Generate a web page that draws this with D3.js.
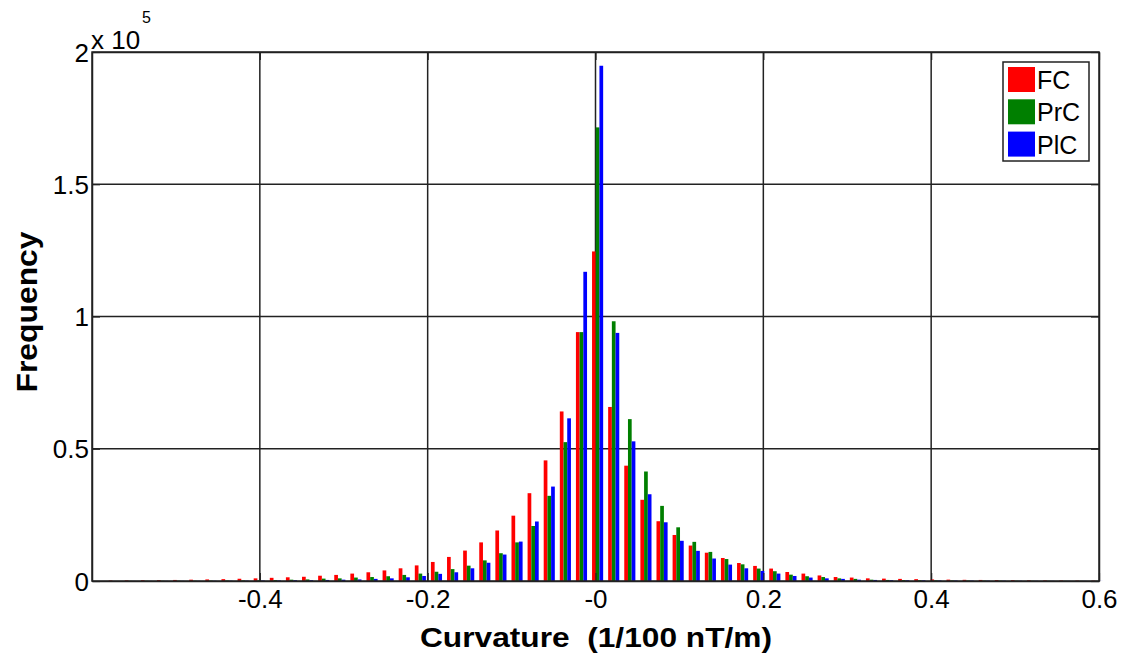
<!DOCTYPE html>
<html>
<head>
<meta charset="utf-8">
<script src="https://cdn.jsdelivr.net/npm/d3@7"></script>
<style>
  body { margin: 0; background: #fff; }
  text { font-family: "Liberation Sans", Arial, sans-serif; fill: #000; }
</style>
</head>
<body>
<div id="chart"></div>
<script>
// bin centres (curvature, 1/100 nT/m)
const binCenters = [
  -0.5735, -0.5543, -0.5351, -0.5159, -0.4967, -0.4775, -0.4583, -0.4391, -0.4199, -0.4007,
  -0.3815, -0.3623, -0.3431, -0.3239, -0.3047, -0.2855, -0.2663, -0.2471, -0.2279, -0.2087,
  -0.1895, -0.1703, -0.1511, -0.1319, -0.1127, -0.0935, -0.0743, -0.0551, -0.0359, -0.0167,
  0.0025, 0.0217, 0.0409, 0.0601, 0.0793, 0.0985, 0.1177, 0.1369, 0.1561, 0.1753,
  0.1945, 0.2137, 0.2329, 0.2521, 0.2713, 0.2905, 0.3097, 0.3289, 0.3481, 0.3673,
  0.3865, 0.4057, 0.4249, 0.4441, 0.4633, 0.4825, 0.5017, 0.5209, 0.5401, 0.5593,
  0.5785, 0.5977
];

const seriesNames = ["FC", "PrC", "PlC"];
const seriesColors = ["#ff0000", "#007f00", "#0000ff"];

const fcValues = [
  180, 220, 270, 330, 400, 500, 600, 700, 850, 1000,
  1200, 1400, 1600, 2000, 2300, 2800, 3300, 4000, 4800, 5900,
  7200, 9100, 11500, 14600, 19100, 24700, 33200, 45600, 64100, 94100,
  124600, 65800, 43600, 30700, 22600, 17400, 13400, 10700, 8700, 6800,
  5700, 4700, 3400, 2800, 2100, 1500, 1300, 1000, 900, 800,
  700, 600, 520, 450, 400, 350, 300, 250, 200, 170,
  140, 110
];
const prcValues = [
  0, 50, 60, 80, 100, 120, 150, 180, 220, 280,
  350, 500, 600, 900, 1000, 1300, 1500, 1800, 2300, 2800,
  3500, 4500, 5800, 7800, 10500, 14600, 20800, 32200, 52500, 94100,
  171500, 98200, 61200, 41400, 28400, 20300, 14800, 11000, 8300, 6300,
  4700, 3700, 2400, 1800, 1500, 1000, 800, 500, 400, 350,
  300, 250, 200, 180, 150, 120, 100, 80, 60, 50,
  40, 30
];
const plcValues = [
  0, 20, 30, 40, 50, 60, 80, 100, 130, 170,
  220, 300, 300, 400, 500, 600, 800, 1000, 1400, 1900,
  2700, 3300, 4800, 6900, 10000, 14900, 22500, 35700, 61500, 116900,
  194800, 93800, 52800, 32800, 22200, 15200, 11400, 8500, 6200, 4800,
  3800, 2800, 1900, 1300, 1000, 800, 500, 400, 300, 280,
  250, 200, 170, 150, 120, 100, 80, 60, 50, 40,
  30, 20
];
const allSeries = [fcValues, prcValues, plcValues];

const xTicks = [-0.4, -0.2, 0, 0.2, 0.4, 0.6];
const xTickLabels = ["-0.4", "-0.2", "-0", "0.2", "0.4", "0.6"];
const yTicks = [0, 50000, 100000, 150000, 200000];
const yTickLabels = ["0", "0.5", "1", "1.5", "2"];

const width = 1127, height = 667;
const plotLeft = 92, plotRight = 1099, plotTop = 52, plotBottom = 581;
const binStep = 0.0192;

const svg = d3.select("#chart").append("svg")
  .attr("width", width).attr("height", height);

const x = d3.scaleLinear().domain([-0.6, 0.6]).range([plotLeft, plotRight]);
const y = d3.scaleLinear().domain([0, 200000]).range([plotBottom, plotTop]);

// grid
svg.append("g").selectAll("line")
  .data(xTicks.filter(d => d > -0.6 && d < 0.6))
  .enter().append("line")
  .attr("x1", d => x(d)).attr("x2", d => x(d))
  .attr("y1", plotTop).attr("y2", plotBottom)
  .attr("stroke", "#222").attr("stroke-width", 1.5);
svg.append("g").selectAll("line")
  .data(yTicks.filter(d => d > 0 && d < 200000))
  .enter().append("line")
  .attr("x1", plotLeft).attr("x2", plotRight)
  .attr("y1", d => y(d)).attr("y2", d => y(d))
  .attr("stroke", "#222").attr("stroke-width", 1.5);

// bars
const groupW = x(binStep * 0.69) - x(0);
const barW = groupW / 3;
allSeries.forEach(function (vals, s) {
  svg.append("g").selectAll("rect")
    .data(vals)
    .enter().append("rect")
    .attr("x", (d, i) => x(binCenters[i]) - groupW / 2 + s * barW)
    .attr("width", barW)
    .attr("y", d => y(d))
    .attr("height", d => y(0) - y(d))
    .attr("fill", seriesColors[s]);
});

// axes
const xAxis = svg.append("g").attr("transform", `translate(0,${plotBottom})`)
  .call(d3.axisBottom(x).tickValues(xTicks).tickSizeInner(-8).tickSizeOuter(0)
    .tickFormat((d, i) => xTickLabels[i]));
const yAxis = svg.append("g").attr("transform", `translate(${plotLeft},0)`)
  .call(d3.axisLeft(y).tickValues(yTicks).tickSizeInner(-8).tickSizeOuter(0)
    .tickFormat((d, i) => yTickLabels[i]));
svg.append("g").attr("transform", `translate(0,${plotTop})`)
  .call(d3.axisTop(x).tickValues(xTicks).tickSizeInner(-8).tickSizeOuter(0).tickFormat(""));
svg.append("g").attr("transform", `translate(${plotRight},0)`)
  .call(d3.axisRight(y).tickValues(yTicks).tickSizeInner(-8).tickSizeOuter(0).tickFormat(""));

svg.selectAll(".domain").attr("stroke", "#222").attr("stroke-width", 1.5);
svg.selectAll(".tick line").attr("stroke", "#222").attr("stroke-width", 1.2);
xAxis.selectAll("text").attr("font-size", 26).attr("font-family", null)
  .attr("dy", null).attr("y", 27);
yAxis.selectAll("text").attr("font-size", 26).attr("font-family", null)
  .attr("x", -3).attr("dy", "0.35em");

// box
svg.append("rect").attr("x", plotLeft).attr("y", plotTop)
  .attr("width", plotRight - plotLeft).attr("height", plotBottom - plotTop)
  .attr("fill", "none").attr("stroke", "#222").attr("stroke-width", 1.5);

// exponent label
svg.append("text").attr("x", 91).attr("y", 49).attr("font-size", 26).text("x 10");
svg.append("text").attr("x", 142).attr("y", 23).attr("font-size", 16).text("5");

// axis titles
svg.append("text")
  .attr("transform", "translate(37,312) rotate(-90)")
  .attr("text-anchor", "middle")
  .attr("font-size", 29).attr("font-weight", "bold")
  .attr("textLength", 161).attr("lengthAdjust", "spacingAndGlyphs")
  .text("Frequency");
svg.append("text")
  .attr("x", 596).attr("y", 647)
  .attr("text-anchor", "middle")
  .attr("font-size", 28).attr("font-weight", "bold")
  .style("white-space", "pre")
  .attr("textLength", 352).attr("lengthAdjust", "spacingAndGlyphs")
  .text("Curvature  (1/100 nT/m)");

// legend
const legend = svg.append("g");
legend.append("rect").attr("x", 1003).attr("y", 62)
  .attr("width", 86).attr("height", 99)
  .attr("fill", "#fff").attr("stroke", "#222").attr("stroke-width", 1.5);
seriesNames.forEach(function (name, i) {
  legend.append("rect").attr("x", 1008).attr("y", 67 + i * 32.3)
    .attr("width", 27).attr("height", 25).attr("fill", seriesColors[i]);
  legend.append("text").attr("x", 1037).attr("y", 89 + i * 32.3)
    .attr("font-size", 25)
    .text(name);
});
</script>
</body>
</html>
